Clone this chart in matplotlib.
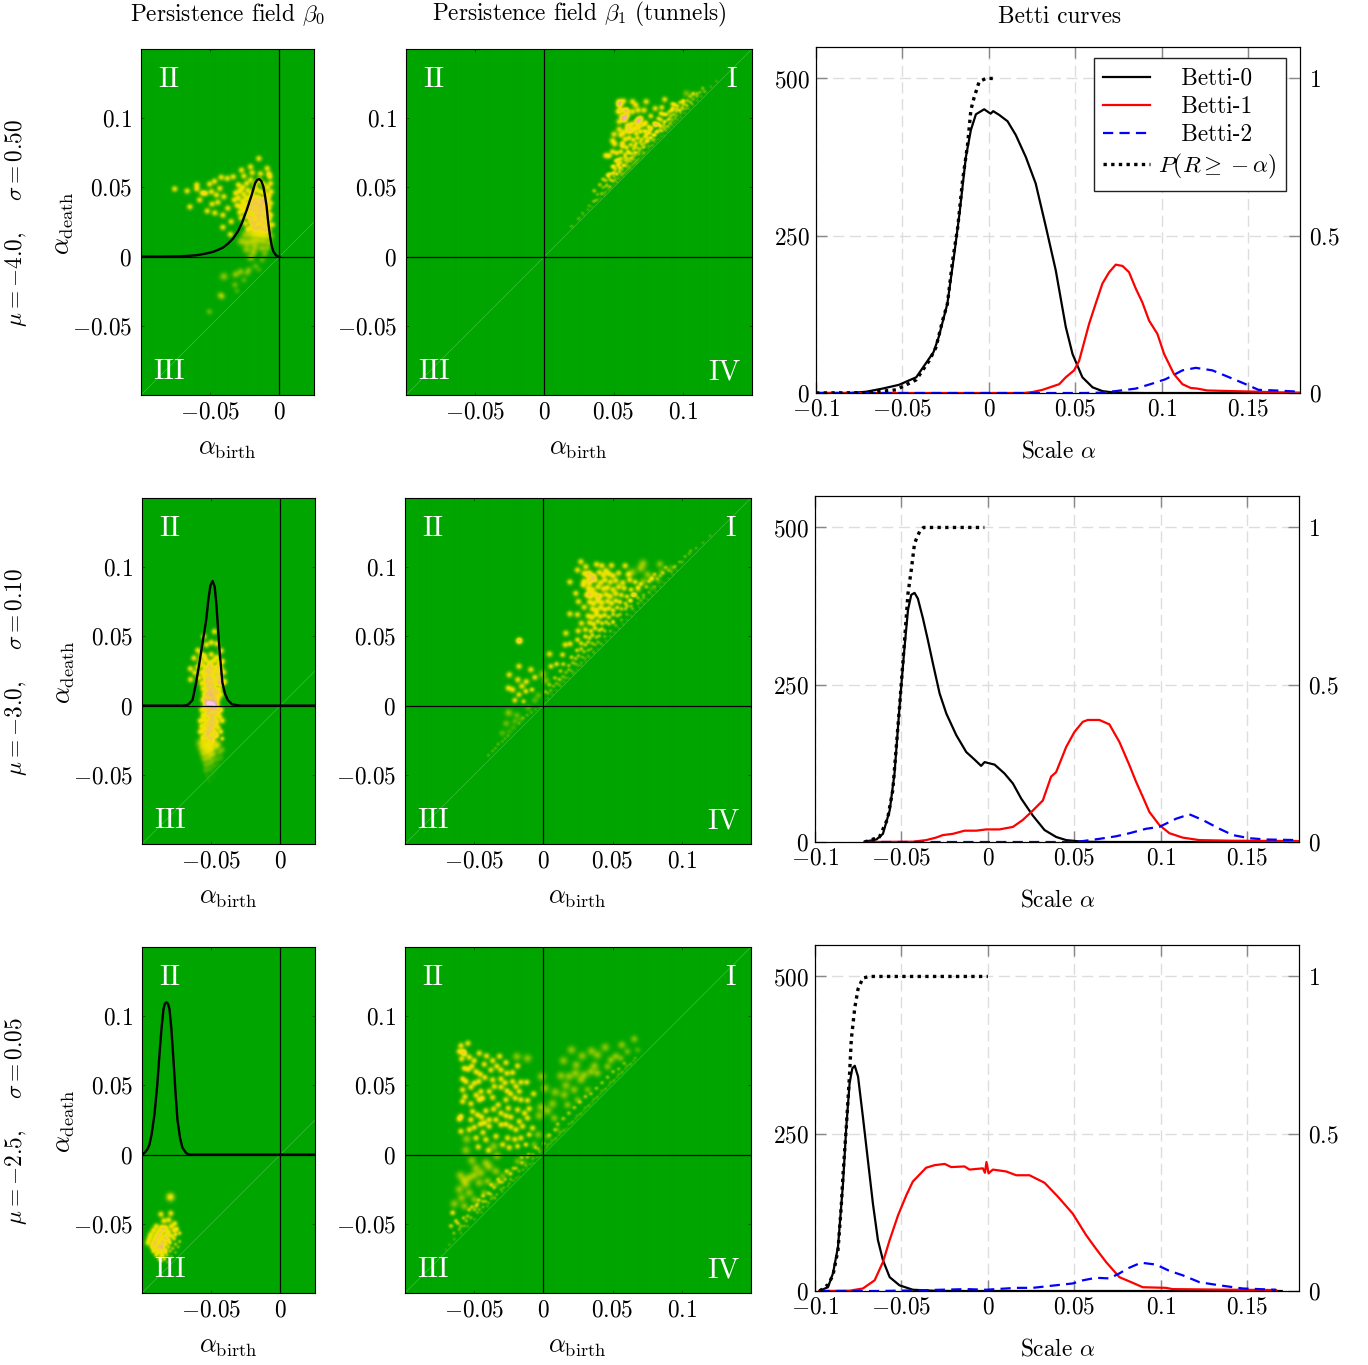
import numpy as np
import matplotlib
matplotlib.use("Agg")
import matplotlib.pyplot as plt
from matplotlib.colors import LinearSegmentedColormap

plt.rcParams['font.family'] = ['cmr10']
plt.rcParams['mathtext.fontset'] = 'cm'
plt.rcParams['axes.formatter.use_mathtext'] = True
plt.rcParams['font.size'] = 16.8

# Betti curves, row 1
r1_x0 = [-.1,-.08,-.071,-.0615,-.052,-.042,-.036,-.032,-.029,-.024,-.020,-.017,-.0133,-.0104,-.0075,-.0027,.001,.0025,.006,.0108,.0156,.0214,.0271,.033,.0387,.0445,.0484,.0541,.06,.0657,.073,.09,.18]
r1_y0 = [0,0,2,7,13,25,49,65,89,142,221,285,375,418,443,451,444,448,442,432,410,375,333,264,195,105,62,25,9,3,.5,0,0]
r1_x1 = [-.1,.02,.0252,.031,.0407,.0445,.0493,.0522,.058,.0618,.0657,.0696,.0734,.0773,.0811,.085,.0888,.0927,.0975,.1014,.1071,.112,.1168,.1206,.1264,.1408,.156,.168,.18]
r1_y1 = [0,0,1.5,5,14,25,36,51,110,142,174,192,204,202,192,166,144,115,94,62,30,14,8,7,4,3,2,1,.5]
r1_x2 = [-.1,.055,.0638,.0734,.085,.0946,.1023,.112,.1197,.1293,.139,.1486,.156,.166,.18]
r1_y2 = [0,0,.5,3,7,15,22,36,40,36,25,14,5,4,2]
r1_xp = [-.1,-.07,-.0537,-.042,-.0345,-.0306,-.0268,-.024,-.021,-.018,-.0152,-.0123,-.0104,-.0085,-.0056,-.0017,.004]
r1_yp = [0,.001,.01,.042,.103,.145,.23,.283,.42,.527,.676,.79,.9,.94,.99,1,1]

# row 2
r2_x0 = [-.0713,-.0645,-.0607,-.0568,-.054,-.0511,-.0482,-.0462,-.0443,-.0424,-.0405,-.0376,-.0347,-.0318,-.0279,-.024,-.0183,-.0125,-.0077,-.0039,-.0019,.0039,.0096,.0145,.0193,.026,.0328,.0395,.0453,.055,.07,.18]
r2_y0 = [.5,4,13,50,109,215,310,369,393,396,387,356,321,284,236,204,170,143,131,121,127,123,109,93,69,42,19,8,3,.5,0,0]
r2_x1 = [-.0713,-.0434,-.0357,-.03,-.026,-.0202,-.0135,-.0067,-.001,.0067,.0145,.0202,.026,.0318,.0366,.0395,.0453,.0501,.0549,.0578,.0645,.0703,.0761,.0819,.0857,.0896,.0934,.0992,.105,.1127,.1224,.1417,.18]
r2_y1 = [0,.5,3,7,11,13,18,18,20,20,24,35,50,66,104,111,151,175,191,194,194,187,159,122,96,72,48,27,14,7,3,2,1.5]
r2_x2 = [-.0713,.05,.055,.0645,.074,.082,.0915,.0992,.1089,.1166,.1243,.134,.1417,.1513,.161,.18]
r2_y2 = [0,0,1.5,5,9,14,21,24,37,44,35,21,11,6,4,3]
r2_xp = [-.0713,-.0627,-.058,-.055,-.0511,-.0482,-.0462,-.0443,-.0424,-.0395,-.0372,-.002]
r2_yp = [0,.016,.074,.165,.43,.64,.79,.865,.95,.987,1,1]

# row 3
r3_x0 = [-.0973,-.0925,-.0896,-.0867,-.0838,-.0819,-.08,-.0784,-.077,-.0751,-.0723,-.0694,-.0665,-.0636,-.0607,-.0568,-.0511,-.0434,-.0318,-.02,.17]
r3_y0 = [.5,6,28,70,171,261,330,354,358,341,277,208,139,81,49,22,9,2,.5,0,0]
r3_x1 = [-.0973,-.08,-.0723,-.0655,-.0607,-.0568,-.052,-.0472,-.0434,-.0357,-.0308,-.025,-.0212,-.0135,-.0106,-.0029,-.0017,-.0008,.0004,.0029,.0106,.0164,.0241,.0328,.0405,.0491,.0568,.0626,.0684,.0761,.0838,.0896,.103,.1069,.1417,.1667]
r3_y1 = [0,.5,4,17,46,81,120,152,174,196,200,202,197,198,193,195,188,205,187,193,190,184,184,172,150,123,89,67,46,22,13,6,5,3,2,1.5]
r3_x2 = [-.0973,-.0645,-.0415,-.0125,-.001,.0164,.026,.0357,.0491,.055,.0626,.0703,.0761,.081,.0886,.0973,.105,.1127,.1224,.134,.1475,.1667]
r3_y2 = [0,0,1,3,2,5,5,8,12,17,21,20,28,36,45,42,32,25,14,9,4,2]
r3_xp = [-.0973,-.0925,-.0896,-.0867,-.0848,-.0838,-.0819,-.08,-.079,-.077,-.0751,-.0723,-.0684,0]
r3_yp = [0,.02,.05,.13,.27,.37,.52,.69,.8,.9,.96,.995,1,1]

# radius density drawn on top of the beta0 field
dens_r1_x = [-.1,-.085,-.072,-.066,-.06,-.054,-.048,-.044,-.0405,-.037,-.0333,-.03,-.0272,-.0236,-.02,-.0176,-.016,-.0145,-.013,-.0116,-.0104,-.0092,-.008,-.0067,-.0055,-.0043,-.0025,-.0007,0]
dens_r1_y = [0,0,.0002,.0005,.001,.002,.0034,.005,.0067,.0095,.0133,.0182,.024,.0337,.0446,.053,.0555,.056,.0545,.0506,.044,.036,.024,.0145,.0075,.0036,.001,0,0]
dens_r2_x = [-.1,-.0693,-.0665,-.0635,-.0609,-.0585,-.056,-.0536,-.052,-.0505,-.049,-.0475,-.0465,-.0455,-.044,-.0419,-.04,-.038,-.035,-.0296,.025]
dens_r2_y = [0,0,.0008,.004,.0166,.031,.047,.0621,.077,.087,.09,.086,.076,.0621,.04,.0166,.0085,.004,.001,0,0]
dens_r3_x = [-.1,-.098,-.096,-.0946,-.093,-.091,-.089,-.0874,-.086,-.0845,-.0835,-.0823,-.0812,-.0801,-.0787,-.0773,-.0758,-.0744,-.0725,-.0708,-.068,-.0657,.025]
dens_r3_y = [0,.0014,.004,.0072,.015,.029,.05,.072,.09,.105,.109,.11,.109,.105,.09,.0686,.045,.0253,.012,.005,.001,0,0]

# persistence points (birth, death) in units of 0.001
pts_r1c1 = [(-76,49),(-67,47.5),(-60,52),(-60,49),(-65,36),(-58,41),(-52.5,33),(-47,31.6),(-49,38),(-56,46),(-53.7,45.8),(-50.8,52.5),(-47.2,54.5),(-49.4,47),(-45.8,44.6),(-43.4,49.4),(-42.4,57.4),(-38,56.6),(-40.5,43.4),(-44.8,39.3),(-37.6,35),(-41.2,30),(-35.2,25.3),(-41.2,21.2),(-35.7,16),(-15.2,71),(-21.2,65),(-27.7,62.6),(-9.2,63.9),(-8,60),(-33.7,57.8),(-26,58.3),(-20,60.7),(-14,60),(-7.2,57.8),(-6.7,53),(-6.3,47),(-6.7,38.6),(-6.7,30),(-5.5,23),
(-30,52),(-27,50),(-24,53),(-21,55.5),(-18,52),(-15,55),(-12,52.5),(-9,50),(-32,46),(-29,47.5),(-26,45),(-23,48),(-20,46),(-17,48.5),(-14,47),(-11,46),(-8,44),(-33,41),(-30,42.5),(-27,40),(-24,42),(-21,43.5),(-19,41),(-17,43),(-15,42),(-13,41),(-11,40.5),(-9,41.5),(-31,37),(-28,36),(-25,37.5),(-22,38),(-20,37),(-18,39),(-16,38),(-14,37),(-12,38.5),(-10,36),(-8,35),(-29,32),(-26,33.5),(-23,33),(-21,34.5),(-19,33),(-17,35),(-15,33),(-13,34.5),(-11,33),(-9,31),(-28,28),(-24,29.5),(-22,29),(-20,28),(-18,30.5),(-16,29),(-14,30.5),(-12,29),(-10,28),(-8,27),(-25,24),(-21,25.5),(-19,24),(-17,25),(-15,26.5),(-13,25),(-11,24),(-9,23),(-23,20),(-20,21.5),(-18,20),(-16,21),(-14,21.5),(-12,20),(-10,19),(-8,19.5)]
faint_r1c1 = [(-25,16),(-21,16.5),(-18,16),(-15,17),(-13,16),(-10,15),(-7,15),(-28,11),(-24,10),(-20,11),(-16,11.5),(-12,11),(-8,10),(-18,7),(-13,6),(-9,6),(-24,5),(-19,3),(-11,2),(-40.5,-14.5),(-32,-13),(-28.4,-11),(-22.4,-9.6),(-32.5,-20.5),(-26,-17),(-41.7,-29),(-43,-28),(-51,-40),(-21,-1),(-12.8,-2.4),(-17.6,-7),(-23.6,-12),(-15,-9.6),(-31,-25)]

pts_r1c2 = [(53.7,112.2),(56.8,112.6),(63.3,112.2),(65.7,109.7),(73.2,112.2),(86.6,113.8),(97.7,111.7),(92.2,110.5),(84.5,108),(79.7,107.3),(53,105),(58.5,106),(63.3,105),(67.4,106),(71.7,106),(55.6,101.3),(59.7,102.5),(69.3,100),(76.5,101.8),(83.8,103.7),(92.2,107.3),(53.7,97.7),(57.3,99),(66.9,97.7),(72.9,97),(79,96.5),(53.7,92.2),(59.7,92.9),(65.7,92.9),(50,88.6),(60.9,90.5),(73.6,88.6),(48.9,84),(54.9,88),(56,82),(50.5,81.6),(44,73.2),(46.5,72.9),(48.9,76),(51.3,69.3),(48.9,65.2),(53.7,64),(42.1,56),(45.3,59.2),(39.7,52),(35.6,47.6),(32,36.8),(27.2,31.5),(18.8,21.9),(24.8,27.9),
(53.7,110.5),(54.9,106.1),(57.3,100.1),(66.9,97.7),(68.1,99.4),(59,105.7),(54,110),(58,101),
(60,95),(63,96),(68,94),(71,95.5),(75,94),(82,96),(86,95),(89,94.5),(57,90),(63,91.5),(66,89),(69,90.5),(72,91),(76,89.5),(80,90),(84,91),(58,85),(61,86),(64,84.5),(67,86),(70,85),(73,84),(76,86),(79,85),(56,80),(59,79),(62,81),(65,80),(67,78.5),(70,81),(72,79.5),(75,80),(52,75),(55,76),(58,74),(60,76),(63,74.5),(65,75.5),(68,74),(71,75.5),(53,70),(55,71),(58,69.5),(60,71),(62,69),(64,70.5),(66,69.5),(50,65),(53,66),(55,64.5),(57,66),(59,65),(61,65.5),(47,60),(50,61),(52,59.5),(54,61),(56,60),(44,55),(47,56),(49,54.5),(51,56),(52,54),(42,50),(44,51),(46,49.5),(47,50.5),(38,45),(41,46),(43,44.5),(35,40),(37,41)]
faint_r1c2 = [(102.3,118.2),(107.8,117.5)]
diag_r1c2 = [(20,22),(24,27),(28,30),(31,34),(34,36),(36,40),(38,41),(40,42),(41,45),(43,46),(44,47),(46,48),(47,51),(48,50),(50,52),(50,55),(52,54),(53,57),(54,56),(55,59),(56,58),(57,60),(58,61),(59,62),(60,63),(61,64),(62,64),(63,66),(64,67),(65,68),(66,68),(67,70),(68,71),(70,72),(71,74),(72,75),(74,76),(75,78),(77,80),(78,81),(80,83),(82,85),(84,87),(86,88),(88,91),(90,93),(92,95),(94,97),(96,99),(98,101),(101,104),(104,107),(107,110),(110,113),(113,116),(116,119),(120,123),(124,127),(90,100),(97,106),(102,110),(107,114),(112,119),(88,94),(85,91),(92,99),(95,102),(100,107),(105,112),(110,116),(115,120),
(45,52),(48,55),(50,58),(52,60),(54,62),(56,63),(57,66),(59,67),(60,69),(62,71),(63,72),(65,73),(66,75),(68,76),(69,78),(71,79),(72,82),(74,83),(75,84),(77,86),(78,88),(80,88),(81,91),(83,92),(84,94),(86,97),(87,92),(89,99),(91,97),(93,103),(95,105),(98,104),(100,110),(103,109),(46,58),(49,60),(51,63),(53,67),(55,68),(58,72),(61,75),(64,78),(66,82),(69,83),(72,87),(74,90),(77,93),(80,96),(82,100),(86,103),(90,105),(94,110),(100,113),(105,116),
(76,92),(80,95),(84,99),(88,103),(92,106),(96,109),(100,112),(79,88),(83,95),(87,98),(91,102),(95,107),(99,108),(103,113),(107,118),(74,86),(78,84),(82,90),(86,93),(90,96),(94,100),(98,106),(102,107),(106,111),(110,118),(114,122)]

pts_r2c1 = [(-47.7,53.6),(-55.4,50),(-53.6,44),(-50,45.7),(-46,44.8),(-59.8,40),(-42.8,39.7),(-62.6,34.4),(-65.2,26.7),(-65,18.8),(-62,23.8),(-57.3,36.8),(-41.9,32),(-40.4,17.5),(-44,16.6),
(-55,36),(-50,37),(-46,35),(-58,32),(-54,33),(-51,31),(-48,32.5),(-44,31),(-60,28),(-56,29),(-53,27),(-51,28.5),(-49,27),(-46,28),(-43,27),(-57,24),(-54,25),(-52,23),(-50,24.5),(-47,23),(-45,25),(-41,24),(-59,20),(-55,21),(-53,19),(-51,20.5),(-49,19),(-46,21),(-44,20),(-57,16),(-54,17),(-52,15),(-50,16.5),(-48,15),(-45,17),(-42,16),(-56,12),(-53,13),(-51,11),(-49,12.5),(-47,11),(-44,12),(-55,8),(-53,9),(-51,7),(-50,8.5),(-48,7),(-46,9),(-43,8),(-56,4),(-54,5),(-52,3),(-49,4.5),(-47,3),(-45,5),(-54,1),(-52,2),(-51,0),(-49,1.5),(-48,0),(-46,1),(-53,1),(-50,2),(-47,-1),
(-57,-3),(-54,-2),(-52,-4),(-50,-3),(-48,-2),(-45,-4),(-43,-3),(-56,-7),(-53,-6),(-51,-8),(-49,-7),(-47,-6),(-44,-8),(-58,-11),(-55,-10),(-52,-12),(-50,-11),(-48,-10),(-46,-12),(-42,-11),(-57,-15),(-54,-14),(-52,-16),(-50,-15),(-48,-14),(-45,-16),(-58,-19),(-55,-18),(-53,-20),(-51,-19),(-49,-18),(-47,-20),(-43,-19),(-56,-23),(-53,-22),(-51,-24),(-49,-23),(-46,-22),(-42,-24)]
faint_r2c1 = [(-58,-27),(-55,-26),(-52,-28),(-50,-27),(-48,-26),(-45,-28),(-57,-31),(-54,-30),(-51,-32),(-49,-31),(-46,-30),(-42,-32),(-56,-35),(-53,-34),(-50,-36),(-48,-35),(-44,-34),(-55,-39),(-52,-38),(-49,-40),(-46,-39),(-43,-38),(-54,-43),(-51,-42),(-48,-44),(-45,-43),(-54,-47),(-51,-46),(-49,-48),(-46,-47),(-53,-51),(-50,-50),(-48,-52),(-52,-55),(-51,-54)]

pts_r3c1 = [(-86.6,-43.3),(-79.4,-42.6),(-84.5,-48),(-80.9,-47.4),(-76.5,-50),(-86,-52.8),(-90,-52),(-83,-53),(-79,-52),(-75,-54),(-92,-55),(-88,-56),(-85,-55),(-81,-56),(-77,-55),(-73,-57),(-94,-58),(-90,-59),(-87,-58),(-84,-60),(-82,-58),(-79,-59),(-76,-58),(-95,-61),(-91,-62),(-88,-61),(-86,-63),(-83,-61),(-81,-62),(-77,-61),(-73,-63),(-96,-64),(-92,-65),(-90,-64),(-87,-66),(-85,-64),(-83,-65),(-80,-64),(-76,-65),(-93,-67),(-90,-68),(-88,-67),(-86,-68),(-85,-67),(-83,-69),(-81,-67),(-78,-68),(-74,-67),(-92,-70),(-89,-71),(-87,-70),(-86,-72),(-84,-70),(-83,-71),(-80,-70),(-76,-71),(-90,-73),(-87,-74),(-85,-73),(-84,-75),(-82,-73),(-79,-74),(-88,-76),(-86,-77),(-84,-76),(-82,-78)]
faint_r3c1 = [(-79.7,-30.8),(-79.7,-30.8)]

pts_r2c2 = [(26.7,104.2),(24.3,98.2),(30.3,100.6),(38,102.3),(41.9,101.3),(48.9,101.5),(58.7,101.3),(44.8,97.7),(18.8,89.5),(28.4,87.3),(23.1,81.3),(25,75.3),(18.8,66.4),(24.3,65.9),(29.1,71.2),(27.2,59.6),(15.9,52.4),(24.8,54.1),(15.4,44),(19,44.7),(24.3,47.6),(13.5,36.8),(4.1,37.3),(-17.8,46.9),(-17.8,46.9),(-18,28.4),(-9.4,26),(-25,22.3),(-6.5,20.4),(-18.8,18.7),(-12.7,17.3),(-15.9,14),(-25.7,12.7),(-22.6,11.5),(-13,10.3),(-8.6,11.5),(-18,7.9),(-21,3.8),(-14.7,3),(5.1,28.4),(9.2,30),
(32.8,91),(35.2,92.1),(29.1,95.8),(31.6,94.5),(38.8,78.9),(32.8,81.3),
(33,96),(36,94),(40,96.5),(43,94.5),(47,95.5),(50,94),(54,96),(61,95),(29,90),(33,88.5),(37,91),(41,89),(44,91),(48,89.5),(52,90.5),(57,89),(62,91),(66,89.5),(32,85),(35,84),(39,86),(43,84.5),(46,85.5),(50,84),(54,86),(58,85),(63,84),(68,85.5),(31,80),(34,79),(37,81),(41,79.5),(45,80.5),(48,79),(52,81),(56,80),(60,79),(65,80.5),(33,75),(36,74),(39,76),(42,74.5),(46,75.5),(49,74),(52,76),(55,75),(59,74),(62,76),(35,70),(38,69),(41,71),(44,69.5),(47,70.5),(50,69),(53,71),(56,70),(32,65),(35,64),(38,66),(41,64.5),(44,65.5),(47,64),(50,66),(53,65),(33,60),(36,59),(39,61),(42,59.5),(45,60.5),(47,59),(50,61),(30,55),(34,54),(37,56),(40,54.5),(42,55.5),(44,54),(30,50),(33,49),(35,51),(38,49.5),(40,50.5)]
faint_r2c2 = [(71.7,103),(83.8,102.5),(70,99.4),(63.8,96.5),(75,95),(85,97),(92,100),(78,85),(83,90),(72,90),(78,92),(68,84),(-.9,22.8),(1.5,18),(12.3,18.7),(-4,7.4),(-6.5,3.8),(-25.5,-5.3),(-19.5,-7),(-27.2,-13),(-11.3,-1.7),(-21,-11.4),(-16.6,-10.2),(-30,-20),(-25,-19),(-22,-16)]
diag_r2c2 = [(27,45),(30,44),(32,46),(35,45),(37,44),(39,46),(41,45),(24,40),(27,41),(29,39),(32,40),(34,41),(36,39),(20,35),(23,34),(25,36),(28,35),(30,34),(32,36),(14,30),(18,29),(21,31),(23,30),(25,29),(27,31),(12,25),(16,24),(18,26),(20,25),(22,24),(8,20),(11,19),(14,21),(16,20),(4,15),(7,14),(9,16),(11,15),(1,10),(3,9),(5,11),(-33,-28),(-37,-33),(-28,-24),(-18,-13),(-15,-9),(-12,-7),(-9,-5),(-6,-3),(-40,-36),(-35,-31),(-30,-26),(-26,-22),(-3,-1),(0,2),(3,5),(6,8),(9,11),(12,14),(15,17),(18,20),(21,23),(24,26),(27,29),(30,32),(33,35),(36,38),(39,41),(42,44),(45,47),(48,50),(51,53),(54,56),(57,59),(60,62),(63,65),(66,68),(69,71),(72,74),(75,77),(78,80),(81,83),(84,86),(87,89),(90,92),(93,95),(96,98),(100,104),(105,110),(110,114),(115,118),(120,123),(68,78),(72,80),(63,72),(95,101),(44,50),(48,54),(52,58),(56,62),(60,66),(64,70),(68,74),(72,78),(76,82),(80,86),(55,66),(59,70),(63,76),(50,60),
(66,80),(70,88),(74,86),(78,92),(82,92),(86,96),(90,98),(94,100),(98,104),(102,108),(106,112),(76,90),(80,95),(88,100),(60,72),(64,80),(70,76),(84,94),(92,97)]

pts_r3c2 = [(-54.9,80.6),(-59.9,78.9),(-61.1,74.6),(-58,74.6),(-57.5,72.9),(-59.4,69.3),(-53.9,70.5),(-50.3,68),(-46.7,73.4),(-41.4,71.4),(-43.1,65.4),(-37,68),(-32,71.2),(-27.4,66.6),(-19,64.2),(-57.5,62.5),(-54.6,61.8),(-49,60),(-46,58.2),(-38.3,61.3),(-31,61.3),(-26.7,58.9),(-22.6,59.4),(-58.7,54.8),(-56.3,52.9),(-50.3,51.7),(-42.6,55.8),(-37,54.1),(-31,54.8),(-22.6,52.9),(-16.6,52.4),(-12.3,52.4),(-58.7,46.9),(-52.7,48.8),(-45.5,45.7),(-39.5,45.7),(-35.8,49.3),(-31,48.8),(-26.7,46.2),(-20.2,49.3),(-17.8,45.7),(-7.4,44),(-58.7,38.4),(-57,42),(-52.7,36.8),(-46.7,39.7),(-44.3,40.9),(-37,41.3),(-27.4,39.7),(-20.7,40.9),(-16.6,39.7),(-11.8,39.2),(-59.9,27.6),(-61.1,25.7),(-51.5,31.2),(-47.9,28.8),(-41.9,31.7),(-36.3,32.9),(-31,30),(-25.7,33.6),(-19,32.4),(-10.6,33.2),(-52.7,25.2),(-45,27.1),(-39.5,25.2),(-34.6,25.2),(-27.4,28.1),(-23.8,27.1),(-17.8,24),(-11.8,26.4),(-59.9,16.8),(-53.9,18),(-50.3,19.7),(-46,22),(-39.5,20.4),(-31,21.6),(-27.4,22),(-20.2,18),(-15.4,20.4),(-8.2,19.2),(-49,12),(-41.9,10.8),(-34.6,13.2),(-26.2,12),(-16.6,12),(-10.6,14.4),(-47.4,5.5),(-29.8,7.2),(-19,6),(-13,7.2),
(-52,64),(-34,64),(-47,53),(-28,52),(-49,43),(-24,44),(-33,36),(-14,30),(-43,23),(-24,20),(-44,16),(-21,11),(-25,5),(-40,3)]
faint_r3c2 = [(-19.5,71),(-11.8,69.7),(-1.7,56.5),(.7,48),(6.3,36.8),(-2.1,34.4),(2.7,31.7),(-3.3,28.1),(-55.8,11.2),(-56.3,3.1),(-36.3,6),(-7,7.2),(-33.9,-.8),(-4.1,14.4),
(-52,-4.4),(-49,-9.7),(-60.4,-15),(-58,-18.6),(-54,-16.9),(-41.9,-6),(-39.5,-9),(-34.6,-12.1),(-45.5,-13.3),(-50.3,-15),(-61.1,-25.3),(-56.3,-21.7),(-46.7,-20.5),(-40.7,-19.3),(-29.8,-15.7),(-64.7,-35.7),(-59.4,-31.4),(-53.9,-27.7),(-50.3,-32.6),(-43.1,-27.7),(-34.6,-21.7),(-25,-13.3),(-19,-4.9),(-14.2,-6),(-57.5,-37.4),
(20,75.8),(14.2,68),(27.7,71.4),(34.4,75),(44.3,77.7),(56.3,79.4),(65.3,83.7),(38.8,72.1),(23.4,64.9),(36.6,64.2),(12.3,57),(18.3,56.5),(22.9,58.9),(29.1,57.7),(48.4,68.5),(52,71.4),(60.4,74.6),(8.2,45.2),(15.9,50),(21.9,46.9),(34,60),(14.7,43.3),(7.5,26.4),(17.1,36),(26.7,54.1),(38.8,58.9),(46,63.7),(55.6,69.7),(67.7,75.8),(9.9,18),(2.7,13.2),(24.3,39.7),(31.6,46.9)]
diag_r3c2 = [(-65.9,-42.2),(-63.5,-48.2),(-67.1,-51.8),(-55.1,-44.6),(-49,-37.4),(-38.3,-28.9),(-61.1,-54.2),(-64.7,-61.4),(-70.7,-69),(-57.5,-51.8),(-46.7,-39.8),(-52.7,-45.8),(-31,-25.3),(-68.3,-65.3),(-40.7,-37.4),(-60,-57),(-55,-52),(-50,-47),(-45,-42),(-40,-35),(-35,-32),(-30,-27),(-25,-21),(-20,-17),(-15,-11),(-10,-7),(-5,-2),(0,3),(3,7),(6,10),(9,12),(12,16),(15,18),(18,22),(21,24),(24,28),(27,30),(30,34),(33,36),(36,40),(39,42),(42,46),(45,48),(48,52),(51,54),(54,58),(57,60),(60,64),(63,66),(66,70),(10,22),(14,26),(18,30),(22,34),(26,38),(30,42),(34,44),(38,48),(42,52),(46,56),(50,60),(54,62),(58,66),(-48,-36),(-44,-34),(-40,-28),(-36,-24),(-32,-20),(-28,-18),(-24,-14),(-20,-10),(-16,-6),(-12,-2),(-8,0),(-4,4),(0,8),(4,14),(8,18),
(-62,-50),(-58,-46),(-54,-40),(-50,-40),(-47,-33),(-44,-30),(-42,-34),(-38,-22),(-36,-31),(-33,-18),(-30,-20),(-27,-12),(-24,-18),(-22,-10),(-18,-12),(-16,-2),(-13,-8),(-11,0),(-8,-3),(-6,5),(-3,2),(-65,-57),(-60,-52),(-56,-48),(-52,-38),(-48,-42),(-44,-38),(-38,-32),(-34,-29),(-29,-24),(-26,-23),(-22,-19),(-18,-16),(-12,-10),(-8,-6),(-3,-1),(2,5),(5,8),(8,11),(11,14),(14,17),(17,19),(20,23),(23,26),(26,29),(29,32),(32,35),(35,38),(38,41),(41,44),(44,47),(47,50),(50,53),(53,56),(56,59),(59,62),(62,65),(65,68)]

titles = ['Persistence field $\\beta_0$', 'Persistence field $\\beta_1$ (tunnels)', 'Betti curves']
row_labels = ['$\\mu=-4.0,\\quad\\ \\sigma=0.50$', '$\\mu=-3.0,\\quad\\ \\sigma=0.10$', '$\\mu=-2.5,\\quad\\ \\sigma=0.05$']
legend_labels = ['   Betti-0', '   Betti-1', '   Betti-2', '$P(R\\geq-\\alpha)\\ $']

W, H = 1368, 1365
cmap = LinearSegmentedColormap.from_list('field', [(0, '#00a500'), (.3, '#8cc800'), (.55, '#f2e400'), (.78, '#f0b878'), (.9, '#f0a8b8'), (1, '#f4c8e8')])


def box(fig, l, t, r, b):
    return fig.add_axes([l / W, 1 - b / H, (r - l) / W, (b - t) / H])


def txt(fig, x, y, s, **kw):
    fig.text(x / W, 1 - y / H, s, ha='center', va='center', **kw)


def field(xlim, nx, pts, faint=(), diag=()):
    xs = np.linspace(xlim[0], xlim[1], nx)
    ys = np.linspace(-.1, .15, 346)
    X, Y = np.meshgrid(xs, ys)
    z = np.zeros_like(X)
    for group, gain, extra in ((pts, .5, 0), (diag, .5, 0), (faint, .28, .0006)):
        for b, d in group:
            b, d = b / 1000, d / 1000
            p = min(1, max(d - b, .0005) / .03)
            s = .0007 + .0008 * p + extra
            a = gain * min(1, (max(d - b, .0005) / .02) ** .7)
            z += a * np.exp(-((X - b) ** 2 + (Y - d) ** 2) / (2 * s * s))
    # overlapping blobs saturate slowly, only the densest spots turn pink
    return np.where(z < .5, z, .5 + .45 * (z - .5))


def field_panel(ax, xlim, z, quads, xticks, xlabs, curve=None):
    ax.imshow(z, extent=[xlim[0], xlim[1], -.1, .15], origin='lower', aspect='auto', cmap=cmap, vmin=0, vmax=1, interpolation='bilinear')
    ax.plot([-.1, .15], [-.1, .15], color='white', lw=.5, alpha=.25)
    ax.axhline(0, color='black', lw=.9)
    ax.axvline(0, color='black', lw=.9)
    if curve is not None:
        ax.plot(curve[0], curve[1], color='black', lw=1.7)
    ax.set_xlim(xlim)
    ax.set_ylim(-.1, .15)
    ax.set_xticks(xticks, xlabs)
    ax.set_yticks([-.05, 0, .05, .1], ['$-0.05$', '$0$', '$0.05$', '$0.1$'])
    ax.tick_params(axis='both', direction='in', length=2.5, width=.6, color='#005500', top=True, right=True)
    ax.tick_params(axis='x', pad=4.7)
    ax.tick_params(axis='y', pad=6.5)
    for x, y, s in quads:
        ax.text(x, y, s, color='white', fontsize=21, ha='center', va='center')


def betti_panel(ax, cur, show_legend=False):
    x0, y0, x1, y1, x2, y2, xp, yp = cur
    l0, = ax.plot(x0, y0, color='black', lw=1.6)
    l1, = ax.plot(x1, y1, color='red', lw=1.6)
    l2, = ax.plot(x2, y2, color='blue', lw=1.6, ls=(0, (4.6, 2.8)))
    ax.set_xlim(-.1, .18)
    ax.set_ylim(0, 550)
    ax.set_xticks([-.1, -.05, 0, .05, .1, .15], ['$-0.1$', '$-0.05$', '$0$', '$0.05$', '$0.1$', '$0.15$'])
    ax.set_yticks([0, 250, 500], ['$0$', '$250$', '$500$'])
    ax.grid(True, color='#dddddd', lw=1, ls=(0, (8, 4)))
    ax.set_axisbelow(True)
    ax.tick_params(axis='x', direction='in', length=8, width=1, color='#888888', top=True, pad=4)
    ax.tick_params(axis='y', direction='in', length=8, width=1, color='#888888', pad=4.5)
    ax2 = ax.twinx()
    lp, = ax2.plot(xp, yp, color='black', lw=2.4, ls=(0, (1, 1.3)))
    ax2.set_ylim(0, 1.1)
    ax2.set_yticks([0, .5, 1], ['$0$', '$0.5$', '$1$'])
    ax2.tick_params(axis='y', direction='in', length=8, width=1, color='#888888', pad=6.5)
    if show_legend:
        leg = ax2.legend([l0, l1, l2, lp], legend_labels, loc='upper right', bbox_to_anchor=(.971, .968), borderaxespad=0,
                         fancybox=False, framealpha=1, edgecolor='#222222', fontsize=16.8, handlelength=2.0,
                         labelspacing=.25, handletextpad=.34, borderpad=.42)
        leg.get_frame().set_linewidth(1)


if __name__ == "__main__":
    fig = plt.figure(figsize=(W / 100, H / 100), dpi=100)

    c1_xlim = (-.1, .025)
    c2_xlim = (-.1, .15)
    q1 = [(-.08, .128, 'II'), (-.08, -.0836, 'III')]
    q2 = [(-.08, .128, 'II'), (.135, .128, 'I'), (-.08, -.0836, 'III'), (.13, -.0836, 'IV')]
    c1_ticks = ([-.05, 0], ['$-0.05$', '$0$'])
    c2_ticks = ([-.05, 0, .05, .1], ['$-0.05$', '$0$', '$0.05$', '$0.1$'])

    rows = [
        dict(top=49, c1l=141, c2l=406, c3l=816, c3t=47, lab=227, lab2=578,
             z1=field(c1_xlim, 173, pts_r1c1, faint_r1c1), z2=field(c2_xlim, 346, pts_r1c2, faint_r1c2, diag_r1c2),
             dens=(dens_r1_x, dens_r1_y), cur=(r1_x0, r1_y0, r1_x1, r1_y1, r1_x2, r1_y2, r1_xp, r1_yp)),
        dict(top=498, c1l=142, c2l=405, c3l=815, c3t=496, lab=228, lab2=577,
             z1=field(c1_xlim, 173, pts_r2c1, faint_r2c1), z2=field(c2_xlim, 346, pts_r2c2, faint_r2c2, diag_r2c2),
             dens=(dens_r2_x, dens_r2_y), cur=(r2_x0, r2_y0, r2_x1, r2_y1, r2_x2, r2_y2, r2_xp, r2_yp)),
        dict(top=947, c1l=142, c2l=405, c3l=815, c3t=945, lab=228, lab2=577,
             z1=field(c1_xlim, 173, pts_r3c1, faint_r3c1), z2=field(c2_xlim, 346, pts_r3c2, faint_r3c2, diag_r3c2),
             dens=(dens_r3_x, dens_r3_y), cur=(r3_x0, r3_y0, r3_x1, r3_y1, r3_x2, r3_y2, r3_xp, r3_yp)),
    ]

    for i, r in enumerate(rows):
        t = r['top']
        a1 = box(fig, r['c1l'], t, r['c1l'] + 173, t + 346)
        field_panel(a1, c1_xlim, r['z1'], q1, c1_ticks[0], c1_ticks[1], r['dens'])
        a2 = box(fig, r['c2l'], t, r['c2l'] + 346, t + 346)
        field_panel(a2, c2_xlim, r['z2'], q2, c2_ticks[0], c2_ticks[1])
        a3 = box(fig, r['c3l'], r['c3t'], r['c3l'] + 484, r['c3t'] + 346)
        betti_panel(a3, r['cur'], show_legend=(i == 0))

        txt(fig, r['lab'], t + 400, '$\\alpha_{\\mathrm{birth}}$', fontsize=19)
        txt(fig, r['lab2'], t + 400, '$\\alpha_{\\mathrm{birth}}$', fontsize=19)
        txt(fig, r['c1l'] - 77, t + 174, '$\\alpha_{\\mathrm{death}}$', fontsize=19, rotation=90)
        txt(fig, 16, t + 174, row_labels[i], fontsize=16.8, rotation=90)
        txt(fig, r['c3l'] + 243, t + 402, 'Scale $\\alpha$', fontsize=16.8)

    txt(fig, 227, 15, titles[0], fontsize=16.8)
    txt(fig, 579, 14, titles[1], fontsize=16.8)
    txt(fig, 1059, 17, titles[2], fontsize=16.8)

    fig.savefig('out.png', dpi=100)
